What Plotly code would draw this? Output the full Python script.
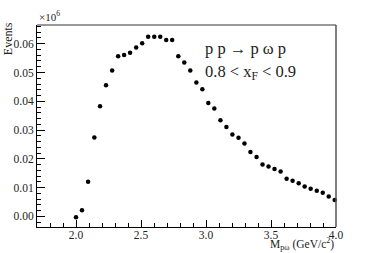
import plotly.graph_objects as go

mass = [2.000, 2.046, 2.093, 2.141, 2.185, 2.231, 2.278, 2.324, 2.370, 2.416,
        2.463, 2.509, 2.555, 2.602, 2.648, 2.694, 2.740, 2.787, 2.833, 2.879,
        2.926, 2.972, 3.018, 3.064, 3.111, 3.157, 3.203, 3.250, 3.296, 3.342,
        3.389, 3.435, 3.481, 3.527, 3.574, 3.620, 3.666, 3.713, 3.759, 3.805,
        3.852, 3.898, 3.944, 3.990]
events = [-0.0003, 0.0021, 0.0120, 0.0274, 0.0383, 0.0456, 0.0507, 0.0556, 0.0561, 0.0569,
          0.0587, 0.0602, 0.0624, 0.0624, 0.0624, 0.0613, 0.0613, 0.0556, 0.0535, 0.0507,
          0.0465, 0.0442, 0.0394, 0.0375, 0.0334, 0.0311, 0.0285, 0.0273, 0.0253, 0.0224,
          0.0206, 0.0180, 0.0173, 0.0165, 0.0156, 0.0131, 0.0124, 0.0115, 0.0104, 0.0096,
          0.0089, 0.0082, 0.0069, 0.0057]

x_ticks = [2.0, 2.5, 3.0, 3.5, 4.0]
x_labels = ["2.0", "2.5", "3.0", "3.5", "4.0"]
y_ticks = [0.0, 0.01, 0.02, 0.03, 0.04, 0.05, 0.06]
y_labels = ["0.00", "0.01", "0.02", "0.03", "0.04", "0.05", "0.06"]

FONT = "Liberation Serif"

fig = go.Figure()
fig.add_trace(go.Scatter(x=mass, y=events, mode="markers",
                         marker=dict(color="black", size=4.5, line=dict(width=0)),
                         cliponaxis=False, showlegend=False, hoverinfo="skip"))

fig.update_layout(
    width=374, height=253,
    margin=dict(l=37, r=38, t=25, b=26),
    paper_bgcolor="white", plot_bgcolor="white",
    font=dict(family=FONT, size=11.5, color="#222"),
    xaxis=dict(range=[1.7, 4.0], tickvals=x_ticks, ticktext=x_labels,
               ticks="inside", ticklen=7, tickcolor="black", tickwidth=1,
               showline=True, linecolor="black", linewidth=1,
               showgrid=False, zeroline=False, automargin=False,
               ticklabelstandoff=-3,
               minor=dict(ticks="inside", ticklen=4, dtick=0.1, tick0=1.7,
                          tickcolor="black", showgrid=False),
               tickfont=dict(family=FONT, size=11.5, color="#222")),
    yaxis=dict(range=[-0.00368, 0.0665], tickvals=y_ticks, ticktext=y_labels,
               ticks="inside", ticklen=8, tickcolor="black", tickwidth=1,
               showline=True, linecolor="black", linewidth=1,
               showgrid=False, zeroline=False, automargin=False,
               minor=dict(ticks="inside", ticklen=4, dtick=0.002, tick0=0,
                          tickcolor="black", showgrid=False),
               tickfont=dict(family=FONT, size=11.5, color="#222")),
)

fig.add_shape(type="line", xref="paper", yref="paper", x0=0, x1=1, y0=1, y1=1,
              line=dict(color="#999999", width=2))
fig.add_shape(type="line", xref="paper", yref="paper", x0=1, x1=1, y0=0, y1=1,
              line=dict(color="#555555", width=1.5))

ann = [
    dict(text="×10<sup>6</sup>", x=0, y=1.045, xanchor="left", yanchor="middle",
         font=dict(size=11, family=FONT, color="#222")),
    dict(text="Events", x=-0.097, y=0.935, xanchor="center", yanchor="middle",
         textangle=-90, font=dict(size=12, family=FONT, color="#222")),
    dict(text="p p → p ω p", x=0.555, y=0.886, xanchor="left", yanchor="middle",
         font=dict(size=16.5, family=FONT, color="#222")),
    dict(text="0.8 &lt; x<sub>F</sub> &lt; 0.9", x=0.555, y=0.767, xanchor="left",
         yanchor="middle", font=dict(size=16.5, family=FONT, color="#222")),
    dict(text="M<sub>pω</sub> (GeV/c<sup>2</sup>)", x=1.0, y=-0.082, xanchor="right",
         yanchor="middle", font=dict(size=11.5, family=FONT, color="#222")),
]
for a in ann:
    fig.add_annotation(xref="paper", yref="paper", showarrow=False, **a)

fig.write_html("out.html",
               config={"displayModeBar": False},
               post_script="document.body.style.margin='0';document.body.style.overflow='hidden';")
